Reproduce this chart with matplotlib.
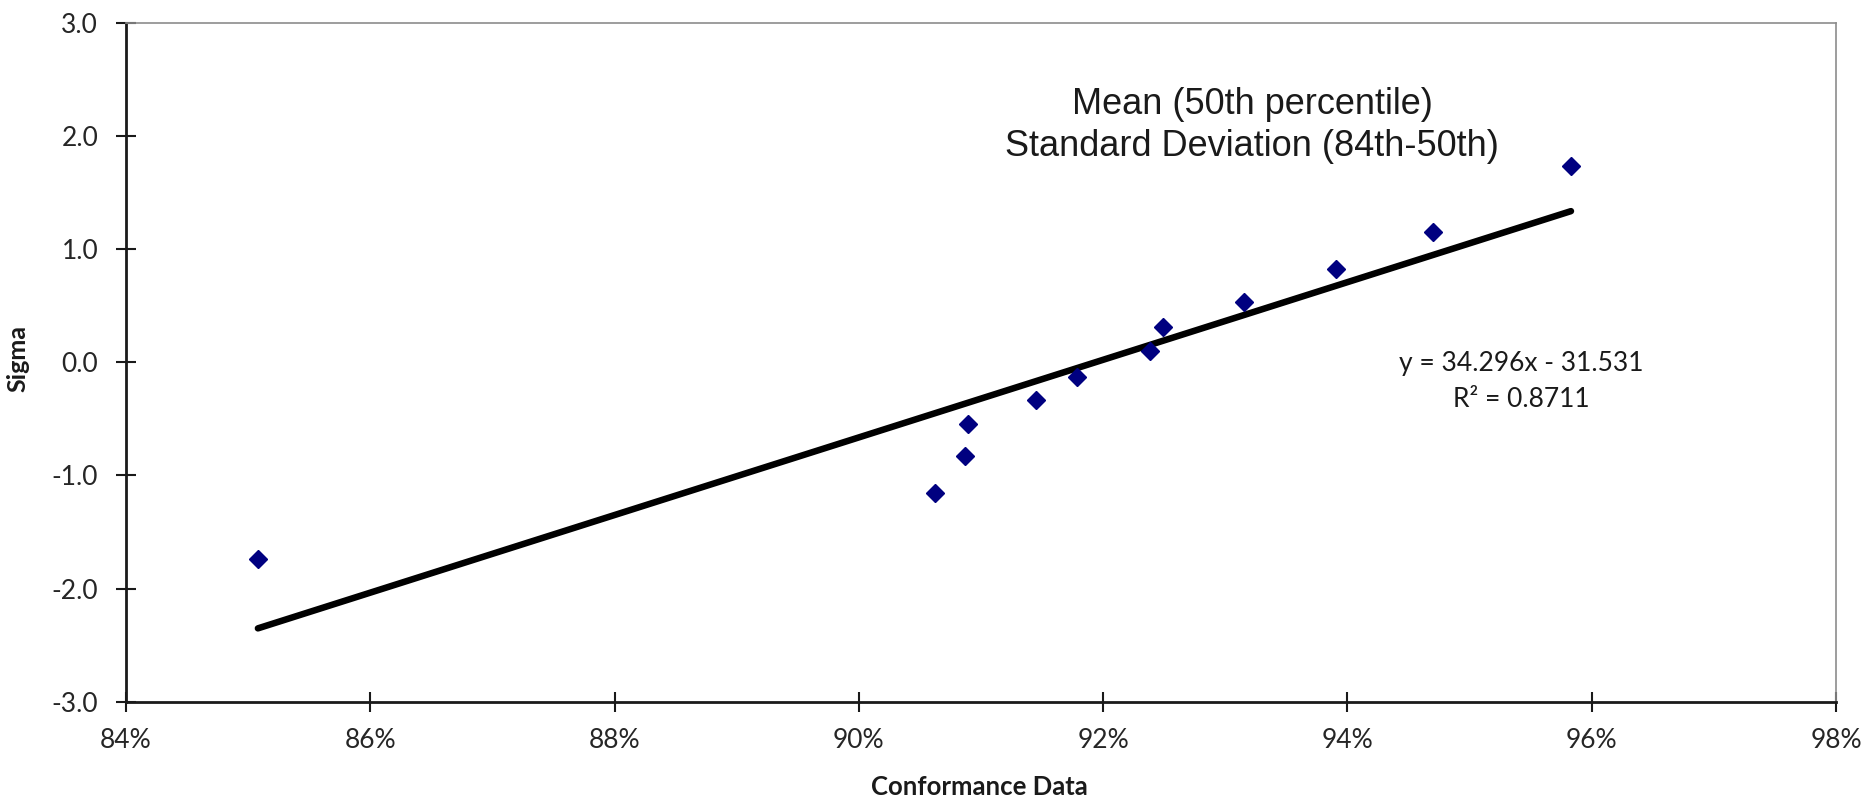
import numpy as np
import matplotlib
matplotlib.use("Agg")
import matplotlib.pyplot as plt
from matplotlib.ticker import PercentFormatter, FormatStrFormatter, MultipleLocator

# Data
conformance = [0.8508, 0.9062, 0.9087, 0.9089, 0.9145, 0.9179,
               0.9238, 0.9249, 0.9315, 0.9391, 0.9470, 0.9583]
sigma = [-1.74, -1.16, -0.83, -0.55, -0.33, -0.13,
         0.10, 0.31, 0.53, 0.82, 1.15, 1.73]
slope = 34.296
intercept = -31.531
r_squared = 0.8711
title_lines = ["Mean (50th percentile)", "Standard Deviation (84th-50th)"]
xlabel = "Conformance Data"
ylabel = "Sigma"

W, H = 1874, 800
fig = plt.figure(figsize=(W / 100, H / 100), dpi=100)
ax = fig.add_axes([126 / W, 1 - 701.7 / H, (1836 - 126) / W, (701.7 - 22.7) / H])

# scatter
ax.plot(conformance, sigma, linestyle="none", marker="D", markersize=9,
        color="#000080", zorder=3)

# trendline
xs = np.array([min(conformance), max(conformance)])
ax.plot(xs, slope * xs + intercept, color="black", linewidth=4.7,
        solid_capstyle="round", zorder=2)

ax.set_xlim(0.84, 0.98)
ax.set_ylim(-3.0, 3.0)
ax.xaxis.set_major_locator(MultipleLocator(0.02))
ax.yaxis.set_major_locator(MultipleLocator(1.0))
ax.xaxis.set_major_formatter(PercentFormatter(xmax=1, decimals=0))
ax.yaxis.set_major_formatter(FormatStrFormatter("%.1f"))

ax.tick_params(axis="both", direction="inout", length=14, width=1.5,
               color="#1a1a1a", labelcolor="#262626")
ax.tick_params(axis="y", pad=13)
ax.tick_params(axis="x", pad=12)
for lab in ax.get_xticklabels() + ax.get_yticklabels():
    lab.set_fontfamily("Lato")
    lab.set_fontsize(19)

for side in ["left", "bottom"]:
    ax.spines[side].set_color("#1a1a1a")
    ax.spines[side].set_linewidth(2.0)
for side in ["top", "right"]:
    ax.spines[side].set_color("#8c8c8c")
    ax.spines[side].set_linewidth(1.2)

fig.text(18 / W, 1 - 358 / H, ylabel, rotation=90, ha="center", va="center",
         family="Lato", fontweight="bold", size=18, color="#1a1a1a")
fig.text(979 / W, 1 - 787 / H, xlabel, ha="center", va="center",
         family="Lato", fontweight="bold", size=18.5, color="#1a1a1a")

ax.text(0.9322, 2.09, "\n".join(title_lines), ha="center", va="center",
        family="Liberation Sans", size=26, color="#1a1a1a", linespacing=1.28)

ax.text(0.9542, -0.17,
        f"y = {slope:.3f}x - {abs(intercept):.3f}\nR\u00b2 = {r_squared:.4f}",
        ha="center", va="center", family="Lato", size=19, color="#1a1a1a",
        linespacing=1.55)

fig.savefig("out.png", dpi=100)
